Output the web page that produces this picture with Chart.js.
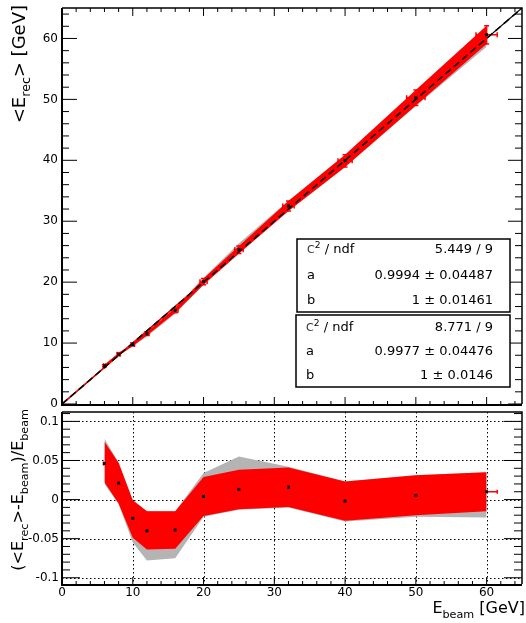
<!DOCTYPE html>
<html>
<head>
<meta charset="utf-8">
<script src="https://cdn.jsdelivr.net/npm/chart.js@4.4.1/dist/chart.umd.min.js"></script>
<style>
  html, body { margin: 0; padding: 0; background: #fff; }
  #wrap { position: relative; width: 526px; height: 623px; }
  #topPad { position: absolute; left: 0; top: 0; }
  #resPad { position: absolute; left: 0; top: 408px; }
</style>
</head>
<body>
<div id="wrap">
  <canvas id="topPad" width="526" height="408"></canvas>
  <canvas id="resPad" width="526" height="215"></canvas>
</div>
<script>
// beam energies and x errors [GeV]
const eBeam = [6, 8, 10, 12, 16, 20, 25, 32, 40, 50, 60];
const eBeamErr = [0.15, 0.2, 0.25, 0.3, 0.4, 0.5, 0.6, 0.8, 1.0, 1.3, 1.5];

// relative residual (<E_rec>-E_beam)/E_beam
const resid = [0.046, 0.021, -0.024, -0.040, -0.039, 0.004, 0.013, 0.016, -0.002, 0.005, 0.010];

// uncertainty bands on the residual
const redHi = [0.074, 0.047, -0.001, -0.015, -0.015, 0.029, 0.038, 0.041, 0.023, 0.031, 0.035];
const redLo = [0.022, -0.005, -0.049, -0.064, -0.063, -0.021, -0.0125, -0.0096, -0.027, -0.020, -0.015];
const grayHi = [0.078, 0.047, -0.001, -0.015, -0.015, 0.034, 0.055, 0.042, 0.023, 0.031, 0.035];
const grayLo = [0.020, -0.006, -0.055, -0.078, -0.075, -0.022, -0.013, -0.010, -0.028, -0.022, -0.023];

// tick labels
const xTicks = [0, 10, 20, 30, 40, 50, 60];
const yTopTicks = [0, 10, 20, 30, 40, 50, 60];
const yResTicks = [-0.1, -0.05, 0, 0.05, 0.1];
const yResLabels = ['-0.1', '-0.05', '0', '0.05', '0.1'];

// fit results
const fitRows1 = [['chi', '5.449 / 9'], ['a', '0.9994 \u00b1 0.04487'], ['b', '1 \u00b1 0.01461']];
const fitRows2 = [['chi', '8.771 / 9'], ['a', '0.9977 \u00b1 0.04476'], ['b', '1 \u00b1 0.0146']];

const FONT = 'DejaVu Sans';
const RED = '#ff0000';
const GRAY = '#b4b4b4';
Chart.defaults.font.family = FONT;

// mean reconstructed energy follows from the residual
const meanOf = arr => eBeam.map((e, i) => ({ x: e, y: e * (1 + arr[i]) }));
const resOf = arr => eBeam.map((e, i) => ({ x: e, y: arr[i] }));

function steps(lo, hi, step) {
  const out = [];
  for (let v = lo; v <= hi + 1e-9; v += step) out.push(Math.round(v * 1000) / 1000);
  return out;
}

// text with sub/superscripts, optionally rotated
function drawRich(ctx, parts, size, x, y, align, angle) {
  ctx.save();
  ctx.translate(x, y);
  if (angle) ctx.rotate(angle);
  const pieces = parts.map(p => {
    const s = (p.sub || p.sup) ? size * 0.7 : size * (p.scale || 1);
    ctx.font = s + 'px "' + FONT + '"';
    return { t: p.t, s, w: ctx.measureText(p.t).width, dy: p.sub ? size * 0.3 : (p.sup ? -size * 0.42 : 0), color: p.color };
  });
  const total = pieces.reduce((a, p) => a + p.w, 0);
  let cx = align === 'right' ? -total : 0;
  ctx.textAlign = 'left';
  ctx.textBaseline = 'alphabetic';
  pieces.forEach(p => {
    ctx.font = p.s + 'px "' + FONT + '"';
    ctx.fillStyle = p.color || '#000';
    ctx.fillText(p.t, cx, p.dy);
    cx += p.w;
  });
  ctx.restore();
}

// inward ticks along one edge of the frame
function drawTicks(ctx, scale, values, majorStep, edge, dir, majLen, minLen) {
  const horiz = scale.isHorizontal();
  ctx.beginPath();
  values.forEach(v => {
    const p = scale.getPixelForValue(v);
    const r = v / majorStep;
    const len = Math.abs(r - Math.round(r)) < 1e-6 ? majLen : minLen;
    if (horiz) { ctx.moveTo(p, edge); ctx.lineTo(p, edge + dir * len); }
    else { ctx.moveTo(edge, p); ctx.lineTo(edge + dir * len, p); }
  });
  ctx.stroke();
}

function drawFrame(ctx, a) {
  ctx.strokeStyle = '#000';
  ctx.lineWidth = 1.5;
  ctx.beginPath();
  ctx.moveTo(a.left, a.top); ctx.lineTo(a.right, a.top); ctx.lineTo(a.right, a.bottom);
  ctx.stroke();
  ctx.lineWidth = 2;
  ctx.beginPath();
  ctx.moveTo(a.left, a.top); ctx.lineTo(a.left, a.bottom + 1); ctx.lineTo(a.right, a.bottom + 1);
  ctx.stroke();
}

function errorCross(ctx, px, py, x0, x1, y0, y1, cap) {
  ctx.beginPath();
  ctx.moveTo(x0, py); ctx.lineTo(x1, py);
  ctx.moveTo(x0, py - cap); ctx.lineTo(x0, py + cap);
  ctx.moveTo(x1, py - cap); ctx.lineTo(x1, py + cap);
  if (y0 !== null) {
    ctx.moveTo(px, y0); ctx.lineTo(px, y1);
    ctx.moveTo(px - cap, y0); ctx.lineTo(px + cap, y0);
    ctx.moveTo(px - cap, y1); ctx.lineTo(px + cap, y1);
  }
  ctx.stroke();
}

function statBox(ctx, x0, y0, x1, y1, rows, rowY) {
  ctx.fillStyle = '#fff';
  ctx.fillRect(x0, y0, x1 - x0, y1 - y0);
  ctx.strokeStyle = '#000';
  ctx.lineWidth = 1.5;
  ctx.strokeRect(x0, y0, x1 - x0, y1 - y0);
  rows.forEach((r, i) => {
    const y = rowY[i];
    if (r[0] === 'chi') {
      drawRich(ctx, [{ t: 'C', scale: 0.85, color: '#333' }, { t: '2', sup: true }, { t: ' / ndf' }], 13, x0 + 10, y, 'left');
    } else {
      drawRich(ctx, [{ t: r[0] }], 13, x0 + 10, y, 'left');
    }
    drawRich(ctx, [{ t: r[1] }], 13, x1 - 17, y, 'right');
  });
}

// keep the plot frame fixed: no extra room for the end labels
function fixScale(size) {
  return s => {
    if (s.isHorizontal()) s.height = size; else s.width = size;
    s.paddingTop = 0; s.paddingBottom = 0; s.paddingLeft = 0; s.paddingRight = 0;
  };
}

const topOverlay = {
  id: 'topOverlay',
  beforeDatasetDraw(chart, args) {
    if (args.index !== 5) return;
    const ctx = chart.ctx, xs = chart.scales.x, ys = chart.scales.y;
    ctx.save();
    ctx.strokeStyle = RED;
    ctx.lineWidth = 1.5;
    eBeam.forEach((e, i) => {
      const yv = e * (1 + resid[i]);
      errorCross(ctx, xs.getPixelForValue(e), ys.getPixelForValue(yv),
        xs.getPixelForValue(e - eBeamErr[i]), xs.getPixelForValue(e + eBeamErr[i]),
        ys.getPixelForValue(e * (1 + redLo[i])), ys.getPixelForValue(e * (1 + redHi[i])), 2.5);
    });
    ctx.restore();
  },
  afterDraw(chart) {
    const ctx = chart.ctx, a = chart.chartArea, xs = chart.scales.x, ys = chart.scales.y;
    ctx.save();
    drawFrame(ctx, a);
    ctx.lineWidth = 1;
    drawTicks(ctx, xs, steps(0, 64, 2), 10, a.bottom + 1, -1, 8, 4);
    drawTicks(ctx, xs, steps(0, 64, 2), 10, a.top, 1, 8, 4);
    drawTicks(ctx, ys, steps(0, 64, 2), 10, a.left, 1, 15, 7);
    drawTicks(ctx, ys, steps(0, 64, 2), 10, a.right, -1, 14, 7);
    drawRich(ctx, [{ t: '<E' }, { t: 'rec', sub: true }, { t: '> [GeV]' }], 18, 25, 5, 'right', -Math.PI / 2);
    statBox(ctx, 297, 239, 510, 312, fitRows1, [253, 279, 304]);
    statBox(ctx, 296, 315, 510, 387, fitRows2, [331, 355, 379]);
    ctx.restore();
  }
};

const resOverlay = {
  id: 'resOverlay',
  beforeDatasetsDraw(chart) {
    const ctx = chart.ctx, a = chart.chartArea, xs = chart.scales.x, ys = chart.scales.y;
    ctx.save();
    ctx.strokeStyle = '#000';
    ctx.lineWidth = 1;
    ctx.setLineDash([1.5, 2.5]);
    ctx.beginPath();
    xTicks.slice(1).forEach(v => {
      const p = Math.round(xs.getPixelForValue(v)) + 0.5;
      ctx.moveTo(p, a.top); ctx.lineTo(p, a.bottom);
    });
    yResTicks.forEach(v => {
      const p = Math.round(ys.getPixelForValue(v)) + 0.5;
      ctx.moveTo(a.left, p); ctx.lineTo(a.right, p);
    });
    ctx.stroke();
    ctx.restore();
  },
  beforeDatasetDraw(chart, args) {
    if (args.index !== 4) return;
    const ctx = chart.ctx, xs = chart.scales.x, ys = chart.scales.y;
    ctx.save();
    ctx.strokeStyle = RED;
    ctx.lineWidth = 1.5;
    eBeam.forEach((e, i) => {
      errorCross(ctx, xs.getPixelForValue(e), ys.getPixelForValue(resid[i]),
        xs.getPixelForValue(e - eBeamErr[i]), xs.getPixelForValue(e + eBeamErr[i]), null, null, 2);
    });
    ctx.restore();
  },
  afterDraw(chart) {
    const ctx = chart.ctx, a = chart.chartArea, xs = chart.scales.x, ys = chart.scales.y;
    ctx.save();
    drawFrame(ctx, a);
    ctx.lineWidth = 1;
    drawTicks(ctx, xs, steps(0, 64, 2), 10, a.bottom + 1, -1, 8, 4);
    drawTicks(ctx, ys, steps(-0.1, 0.11, 0.01), 0.05, a.left, 1, 18, 8);
    drawTicks(ctx, ys, steps(-0.1, 0.11, 0.01), 0.05, a.right, -1, 18, 8);
    drawRich(ctx, [{ t: '(<E' }, { t: 'rec', sub: true }, { t: '>-E' }, { t: 'beam', sub: true }, { t: ')/E' }, { t: 'beam', sub: true }],
      16, 23, 1, 'right', -Math.PI / 2);
    drawRich(ctx, [{ t: 'E' }, { t: 'beam', sub: true }, { t: ' [GeV]' }], 16, 525, 205, 'right');
    ctx.restore();
  }
};

const band = (data, extra) => Object.assign({
  data, borderColor: 'rgba(0,0,0,0)', borderWidth: 0, pointRadius: 0, tension: 0, fill: false
}, extra);

const tickFont = { family: FONT, size: 12 };

new Chart(document.getElementById('topPad'), {
  type: 'line',
  data: {
    datasets: [
      { data: [{ x: 0, y: 0 }, { x: 65, y: 65 }], borderColor: '#000', borderWidth: 1.2, pointRadius: 0, order: 10 },
      band(meanOf(grayLo), { order: 9 }),
      band(meanOf(grayHi), { fill: '-1', backgroundColor: GRAY, order: 8 }),
      band(meanOf(redLo), { order: 7 }),
      band(meanOf(redHi), { fill: '-1', backgroundColor: RED, order: 6 }),
      { data: [{ x: 0, y: 0 }, { x: 60, y: 60 }], borderColor: RED, borderWidth: 1.5, pointRadius: 0, order: 5 },
      { data: [{ x: 0, y: 0 }, { x: 65, y: 65 }], borderColor: '#000', borderWidth: 1.5, borderDash: [7, 4], pointRadius: 0, order: 4 },
      { data: meanOf(resid), showLine: false, pointStyle: 'rect', pointRadius: 2.1, borderWidth: 0, backgroundColor: '#000', order: 1 }
    ]
  },
  options: {
    responsive: false,
    animation: false,
    events: [],
    layout: { padding: { top: 8, right: 1, bottom: 2, left: 0 } },
    plugins: { legend: { display: false }, tooltip: { enabled: false } },
    scales: {
      x: { type: 'linear', min: 0, max: 65, display: false },
      y: {
        type: 'linear', min: 0, max: 65,
        grid: { display: false, drawTicks: false }, border: { display: false },
        ticks: { font: tickFont, color: '#000', padding: 4 },
        afterBuildTicks: s => { s.ticks = yTopTicks.map(v => ({ value: v })); },
        afterFit: fixScale(62)
      }
    }
  },
  plugins: [topOverlay]
});

new Chart(document.getElementById('resPad'), {
  type: 'line',
  data: {
    datasets: [
      band(resOf(grayLo), { order: 9 }),
      band(resOf(grayHi), { fill: '-1', backgroundColor: GRAY, order: 8 }),
      band(resOf(redLo), { order: 7 }),
      band(resOf(redHi), { fill: '-1', backgroundColor: RED, order: 6 }),
      { data: resOf(resid), showLine: false, pointStyle: 'rect', pointRadius: 2.1, borderWidth: 0, backgroundColor: '#000', order: 1 }
    ]
  },
  options: {
    responsive: false,
    animation: false,
    events: [],
    layout: { padding: { top: 0, right: 1, bottom: 0, left: 0 } },
    plugins: { legend: { display: false }, tooltip: { enabled: false } },
    scales: {
      x: {
        type: 'linear', min: 0, max: 65,
        grid: { display: false, drawTicks: false }, border: { display: false },
        ticks: { font: tickFont, color: '#000', padding: 2, maxRotation: 0 },
        afterBuildTicks: s => { s.ticks = xTicks.map(v => ({ value: v })); },
        afterFit: fixScale(39)
      },
      y: {
        type: 'linear', min: -0.108, max: 0.112,
        grid: { display: false, drawTicks: false }, border: { display: false },
        ticks: { font: tickFont, color: '#000', padding: 3, callback: v => yResLabels[yResTicks.indexOf(v)] },
        afterBuildTicks: s => { s.ticks = yResTicks.map(v => ({ value: v })); },
        afterFit: fixScale(62)
      }
    }
  },
  plugins: [resOverlay]
});
</script>
</body>
</html>
